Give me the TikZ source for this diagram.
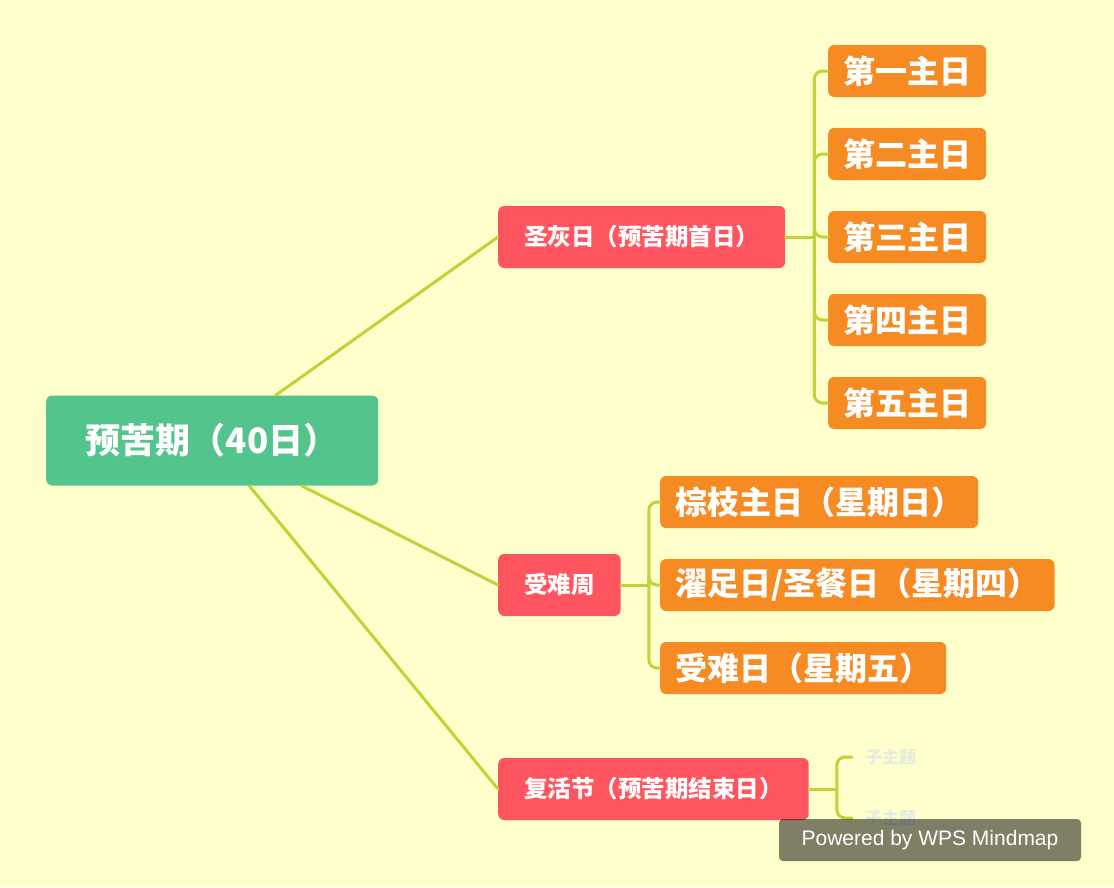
\documentclass[tikz,border=0pt]{standalone}
\usepackage{fontspec}
\newfontfamily\cjk{Noto Sans CJK SC}
\setsansfont{Liberation Sans}
\definecolor{bgyellow}{RGB}{255,255,204}
\definecolor{rootgreen}{RGB}{82,196,140}
\definecolor{topicred}{RGB}{255,85,96}
\definecolor{dayorange}{RGB}{245,139,34}
\definecolor{linegreen}{RGB}{190,211,55}
\definecolor{fainttext}{RGB}{228,236,224}
\tikzset{
	topic/.style={rounded corners=6pt, text=white, anchor=west, inner ysep=0pt},
	rootbox/.style={topic, fill=rootgreen, minimum width=332pt, minimum height=90pt, font=\cjk\bfseries\fontsize{35}{35}\selectfont},
	partbox/.style={topic, fill=topicred, inner xsep=26pt, minimum height=62pt, font=\cjk\bfseries\fontsize{23.5}{23.5}\selectfont},
	daybox/.style={topic, fill=dayorange, inner xsep=15pt, minimum height=52pt, font=\cjk\bfseries\fontsize{32}{32}\selectfont},
	subbox/.style={anchor=west, inner xsep=13pt, text=fainttext, font=\cjk\bfseries\fontsize{17}{17}\selectfont},
	branch/.style={draw=linegreen, line width=3pt, rounded corners=8pt},
	wpsbox/.style={fill=black, fill opacity=0.5, text opacity=1, text=white, rounded corners=4pt, minimum width=302pt, minimum height=42pt, inner sep=0pt, font=\sffamily\fontsize{21}{21}\selectfont}
}
\begin{document}
\begin{tikzpicture}[x=1pt, y=-1pt, line cap=round, line join=round]
	\fill[bgyellow] (0,0) rectangle (1114,887);
	\useasboundingbox (0,0) rectangle (1114,887);
	\node[rootbox] (root) at (46,440.5) {预苦期（40日）};
	\node[partbox] (ash) at (498,237) {圣灰日（预苦期首日）};
	\node[partbox] (week) at (498,585) {受难周};
	\node[partbox] (easter) at (498,789) {复活节（预苦期结束日）};
	\foreach \n [count=\i] in {一,二,三,四,五}
		\node[daybox] (sun\i) at (828,{71+83*(\i-1)}) {第\n 主日};
	\node[daybox] (palm) at (660,502) {棕枝主日（星期日）};
	\node[daybox] (thu) at (660,585) {濯足日/圣餐日（星期四）};
	\node[daybox] (fri) at (660,668) {受难日（星期五）};
	\node[subbox] (subA) at (852,757) {子主题};
	\node[subbox] (subB) at (852,818) {子主题};
	\draw[branch] (root) -- (ash.west);
	\draw[branch] (root) -- (week.west);
	\draw[branch] (root) -- (easter.west);
	\draw[branch] (ash.east) -- ++(29,0) coordinate (ashj);
	\foreach \i in {1,...,5}
		\draw[branch] (ashj) |- (sun\i.west);
	\draw[branch] (week.east) -- ++(28,0) coordinate (weekj);
	\foreach \d in {palm,thu,fri}
		\draw[branch] (weekj) |- (\d.west);
	\draw[branch] (easter.east) -- ++(28,0) coordinate (easterj);
	\foreach \d in {subA,subB}
		\draw[branch] (easterj) |- (\d.west);
	\node[wpsbox] (wps) at (930,840) {Powered by WPS Mindmap};
\end{tikzpicture}
\end{document}
